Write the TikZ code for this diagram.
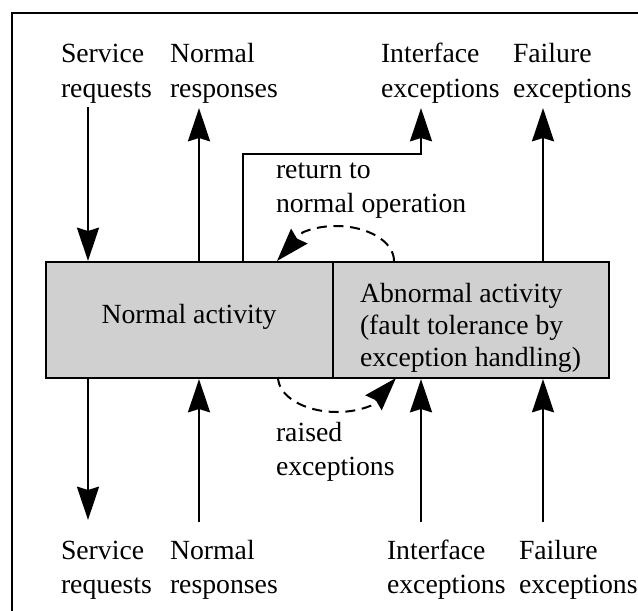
\documentclass[tikz,border=0pt]{standalone}
\usepackage{fontspec}
\setmainfont{Liberation Serif}
\usetikzlibrary{arrows.meta}
\definecolor{activitygray}{RGB}{208,208,208}
\begin{document}
\begin{tikzpicture}[x=0.75pt,y=-0.75pt,
  line width=1.5pt,
  txt/.style={font=\fontsize{20.8pt}{25.5pt}\selectfont, inner sep=0pt, align=left, anchor=base west},
  boxtxt/.style={font=\fontsize{20.8pt}{24pt}\selectfont, inner sep=0pt, align=left},
  activity/.style={draw, fill=activitygray, inner sep=0pt, anchor=north west, minimum height=87pt},
  flow/.style={-{Stealth[length=25pt,width=16.5pt,inset=2.5pt]}},
  loopflow/.style={flow, dash pattern=on 7.5pt off 5pt}]
\useasboundingbox (0,0) rectangle (638,610);

% outer frame (open towards the right and the bottom)
\draw (12,615) -- (12,13) -- (645,13);

% the two halves of the component
\node[activity, minimum width=215.25pt] (normal) at (45,261) {};
\node[activity, minimum width=207pt] (abnormal) at (332,261) {};
\node[boxtxt, anchor=base] (normaltxt) at (189,323) {Normal activity};
% multi-line nodes are placed by the baseline of their last line
\node[boxtxt, anchor=base west] (abnormaltxt) at (359,366)
  {Abnormal activity\\(fault tolerance by\\exception handling)};

% interface labels, top
\node[txt] (srTop) at (60,97) {Service\\requests};
\node[txt] (nrTop) at (169,97) {Normal\\responses};
\node[txt] (ieTop) at (380,97) {Interface\\exceptions};
\node[txt] (feTop) at (512,97) {Failure\\exceptions};

% interface labels, bottom
\node[txt] (srBot) at (60,593) {Service\\requests};
\node[txt] (nrBot) at (169,593) {Normal\\responses};
\node[txt] (ieBot) at (386,593) {Interface\\exceptions};
\node[txt] (feBot) at (518,593) {Failure\\exceptions};

% labels of the internal transitions
\node[txt] (retTxt) at (275,212) {return to\\normal operation};
\node[txt] (raiseTxt) at (275,475) {raised\\exceptions};

% connector end points
\coordinate (srTopEnd) at (88,107);
\coordinate (nrTopEnd) at (199,108);
\coordinate (ieTopEnd) at (421,108);
\coordinate (feTopEnd) at (543,108);
\coordinate (ieBend) at (243,154);
\coordinate (srBotEnd) at (88,520);
\coordinate (nrBotEnd) at (199,522);
\coordinate (ieBotEnd) at (421,522);
\coordinate (feBotEnd) at (543,522);

% upper connectors
\draw[flow] (srTopEnd) -- (srTopEnd |- normal.north);
\draw[flow] (nrTopEnd |- normal.north) -- (nrTopEnd);
\draw[flow] (ieBend |- normal.north) -- (ieBend) -- (ieBend -| ieTopEnd) -- (ieTopEnd);
\draw[flow] (feTopEnd |- abnormal.north) -- (feTopEnd);

% lower connectors
\draw[flow] (srBotEnd |- normal.south) -- (srBotEnd);
\draw[flow] (nrBotEnd) -- (nrBotEnd |- normal.south);
\draw[flow] (ieBotEnd) -- (ieBotEnd |- abnormal.south);
\draw[flow] (feBotEnd) -- (feBotEnd |- abnormal.south);

% transitions between the two activities
\coordinate (retStart) at (394,261);
\coordinate (retEnd) at (277,261);
\coordinate (raiseStart) at (278,377);
\coordinate (raiseEnd) at (396,378);
\draw[loopflow] (retStart)
  arc[start angle=0, end angle=-125, x radius=58, y radius=35] -- (retEnd);
\draw[loopflow] (raiseStart)
  arc[start angle=180, end angle=55, x radius=59, y radius=35] -- (raiseEnd);
\end{tikzpicture}
\end{document}
